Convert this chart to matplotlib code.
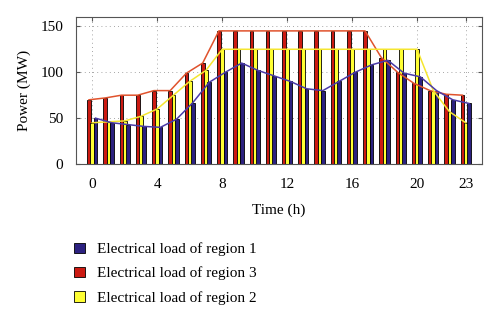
'''Hourly electrical load of three regions'''
import matplotlib
matplotlib.use('Agg')
import matplotlib.pyplot as plt
import numpy as np

plt.rcParams['font.family'] = ['Liberation Serif', 'DejaVu Serif']

hours = np.arange(24)
region1 = [50, 45, 43, 41, 40, 49, 67, 89, 100, 110, 102, 96, 90, 82, 80, 90,
           100, 108, 113, 99, 95, 80, 70, 66]
region2 = [45, 46, 47, 52, 60, 75, 90, 102, 125, 125, 125, 125, 125, 125, 125,
           125, 125, 125, 125, 125, 125, 80, 57, 45]
region3 = [70, 72, 75, 75, 80, 80, 99, 110, 145, 145, 145, 145, 145, 145, 145,
           145, 145, 145, 116, 100, 88, 80, 76, 75]
xticks = [0, 4, 8, 12, 16, 20, 23]
yticks = [0, 50, 100, 150]

BLUE, RED, YELLOW = '#2c2180', '#cc1a12', '#ffff33'
W = 0.23

fig = plt.figure(figsize=(5.0, 3.23), dpi=100)
ax = fig.add_axes([0.152, 0.492, 0.812, 0.455])

# bars: region 3 left, region 2 middle, region 1 right
b3 = ax.bar(hours - 0.2, region3, W, color=RED, edgecolor='black', linewidth=0.6,
            label='Electrical load of region 3', zorder=2)
b2 = ax.bar(hours, region2, W, color=YELLOW, edgecolor='black', linewidth=0.6,
            label='Electrical load of region 2', zorder=2)
b1 = ax.bar(hours + 0.2, region1, W, color=BLUE, edgecolor='black', linewidth=0.6,
            label='Electrical load of region 1', zorder=2)

# trend lines through the bar tops
ax.plot(hours - 0.2, region3, color='#e0522c', lw=1.1, zorder=3)
ax.plot(hours, region2, color='#f5e630', lw=1.1, zorder=3)
ax.plot(hours + 0.2, region1, color='#4a3aa8', lw=1.1, zorder=3)

ax.set_xlim(-1, 24)
ax.set_ylim(0, 160)
ax.set_xticks(xticks)
ax.set_yticks(yticks)
ax.tick_params(direction='in', top=True, right=True, labelsize=11,
               length=3, color='#555555')
ax.tick_params(axis='y', pad=9)
ax.tick_params(axis='x', pad=10)
ax.grid(True, linestyle=(0, (1, 4)), color='#888888', lw=0.6, zorder=0)
for s in ax.spines.values():
    s.set_color('#555555')

ax.set_xlabel('Time (h)', fontsize=11, labelpad=9)
ax.set_ylabel('Power (MW)', fontsize=11, labelpad=7)

fig.legend(handles=[b1, b3, b2], loc='upper left', bbox_to_anchor=(0.136, 0.268),
           frameon=False, fontsize=11, handlelength=0.7, handleheight=0.7,
           handletextpad=0.8, labelspacing=0.68, borderaxespad=0)

fig.savefig('out.png', dpi=100)
